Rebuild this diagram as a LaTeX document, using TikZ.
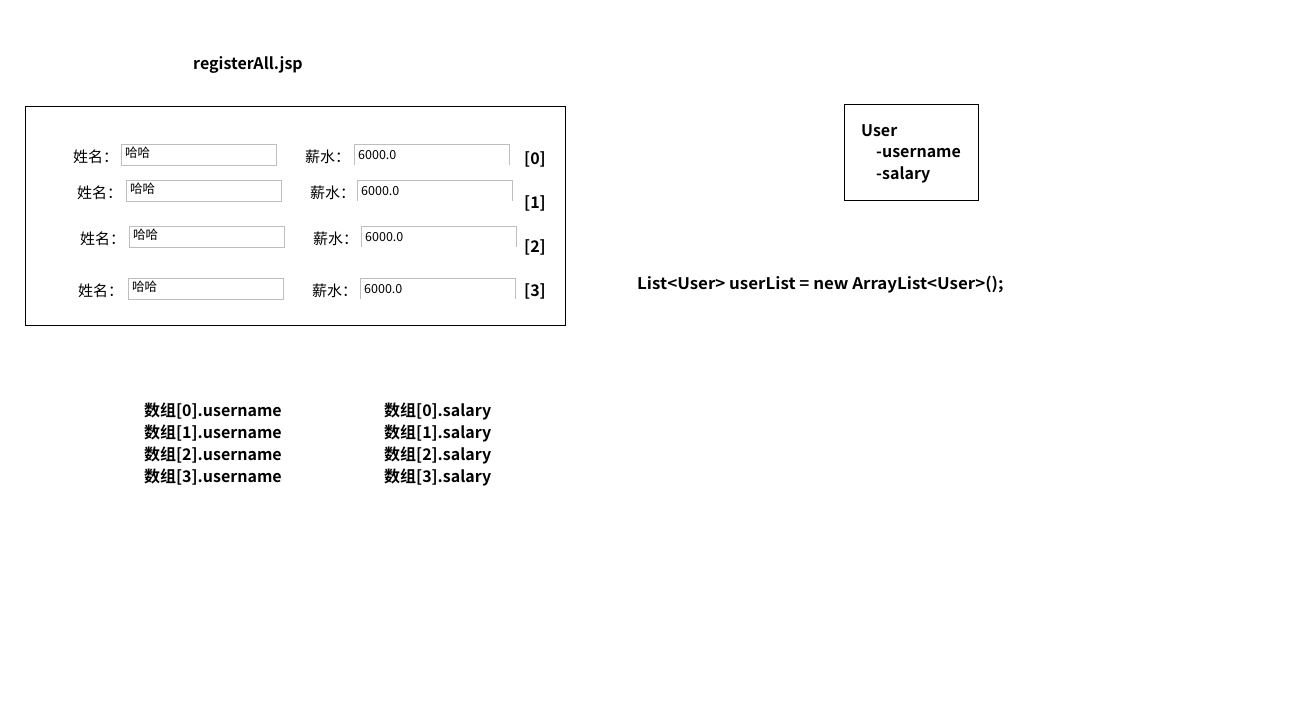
\documentclass[tikz,border=0pt]{standalone}
\usepackage{fontspec}
\setmainfont{Noto Sans CJK SC}[BoldFont={Noto Sans CJK SC Bold}]
\usetikzlibrary{positioning}
\definecolor{fieldgray}{RGB}{190,190,190}
\newcommand{\fieldW}{155}
\newcommand{\fieldH}{21}
\newcommand{\idxX}{524}

\begin{document}
\begin{tikzpicture}[x=1pt,y=-1pt,
    boldtext/.style={font=\fontsize{16}{16}\selectfont\bfseries, inner sep=0pt, anchor=west, yshift=-2pt},
    labeltext/.style={font=\fontsize{15}{15}\selectfont, inner sep=0pt, anchor=west, yshift=-1pt},
    valuetext/.style={font=\fontsize{12.5}{12.5}\selectfont, inner sep=0pt, anchor=west},
    field/.style={draw=fieldgray, inner sep=0pt, anchor=north west,
        minimum width=\fieldW pt, minimum height=\fieldH pt}]

        \useasboundingbox[fill=white] (0,0) rectangle (1304,720);

        % Title of the page
        \node[boldtext, anchor=center] (title) at (248,63) {registerAll.jsp};

        % The form frame
        \node[draw, line width=1pt, inner sep=0pt, anchor=north west,
            minimum width=540pt, minimum height=219pt] (form) at (25,106) {};

        % Form rows: label x, name field x, salary label x, salary field x, top y, index y
        \foreach \i/\lx/\nb/\sx/\sb/\t/\iy in {0/73/121/305/354/144/157,
                                              1/77/126/310/357/180/201,
                                              2/80/129/313/361/226/245,
                                              3/78/128/312/360/278/289} {
            \node[labeltext] (namelabel\i) at (\lx,\t+12) {姓名：};
            \node[field] (namefield\i) at (\nb,\t) {};
            \node[valuetext] (nameval\i) at (\nb+4,\t+9) {哈哈};
            \node[labeltext] (salarylabel\i) at (\sx,\t+12) {薪水：};
            \draw[fieldgray] (\sb,\t+\fieldH) -- (\sb,\t) -- ++(\fieldW,0) -- ++(0,\fieldH);
            \coordinate (salaryfield\i) at (\sb,\t);
            \node[valuetext] (salaryval\i) at (\sb+4,\t+11) {6000.0};
            \node[boldtext] (index\i) at (\idxX,\iy) {[\i]};
        }

        % The User class
        \node[draw, line width=1pt, inner sep=0pt, anchor=north west,
            minimum width=134pt, minimum height=96pt] (userbox) at (844,104) {};
        \node[boldtext] (usertitle) at (861,129) {User};
        \node[boldtext] (username) at (876,151) {-username};
        \node[boldtext] (usersalary) at (876,173) {-salary};

        % The list declaration
        \node[boldtext] (userlist) at (637,283)
            {\scalebox{1.058}[1]{List<User> userList = new ArrayList<User>();}};

        % Array elements
        \foreach \i in {0,...,3} {
            \node[boldtext] (arrname\i) at (144,409+22*\i) {数组[\i].username};
            \node[boldtext] (arrsalary\i) at (384,409+22*\i) {数组[\i].salary};
        }
    \end{tikzpicture}
\end{document}
